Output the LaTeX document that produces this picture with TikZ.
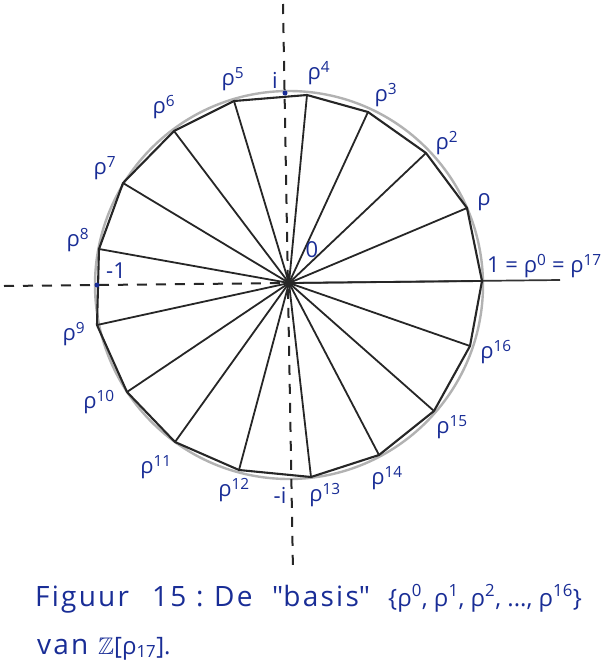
\documentclass[tikz,border=0pt]{standalone}
\usepackage{amssymb}
\usepackage{fontspec}
\setmainfont{Open Sans}
\newfontfamily\plainq{Open Sans}
\definecolor{ink}{RGB}{25,45,150}
\newcommand{\rp}[1]{ρ\textsuperscript{#1}}
\begin{document}
\begin{tikzpicture}[x=1pt,y=-1pt,
  lab/.style={text=ink, font=\fontsize{22}{26}\selectfont, inner sep=0pt},
  captxt/.style={text=ink, font=\fontsize{28}{32}\selectfont\addfontfeature{LetterSpace=8}, inner sep=0pt, anchor=base west},
  capset/.style={text=ink, font=\fontsize{24}{30}\selectfont, inner sep=0pt, anchor=base west},
  edge/.style={draw=black!85, line width=2.1pt, line join=round},
  spoke/.style={draw=black!85, line width=1.8pt},
  axisdash/.style={draw=black!85, line width=2pt, dash pattern=on 10pt off 9pt},
  axisline/.style={draw=black!80, line width=1.7pt},
  rim/.style={draw=black!30, line width=2.4pt},
  dot/.style={circle, fill=ink, inner sep=0pt, minimum size=5pt}]
\useasboundingbox (0,0) rectangle (606,667);
\fill[white] (0,0) rectangle (606,667);
% centre and vertices
\coordinate (O) at (289,283);
\coordinate (v0) at (482,281);
\coordinate (v1) at (467,208);
\coordinate (v2) at (426,153);
\coordinate (v3) at (368,112);
\coordinate (v4) at (307,95);
\coordinate (v5) at (234,101);
\coordinate (v6) at (174,131);
\coordinate (v7) at (123,183);
\coordinate (v8) at (99,249);
\coordinate (v9) at (97,325);
\coordinate (v10) at (127,392);
\coordinate (v11) at (175,442);
\coordinate (v12) at (239,470);
\coordinate (v13) at (311,477);
\coordinate (v14) at (379,455);
\coordinate (v15) at (434,411);
\coordinate (v16) at (470,346);
% axes end points
\coordinate (ytop) at (283,4);
\coordinate (ybot) at (293,572);
\coordinate (xleft) at (4,286);
\coordinate (xright) at (560,280);
% rim circle
\draw[rim] (289,285) circle[radius=194];
% axes
\draw[axisdash] (ytop) -- (ybot);
\draw[axisdash] (xleft) -- (O);
\draw[axisline] (O) -- (xright);
% spokes
\foreach \k in {0,...,16} { \draw[spoke] (O) -- (v\k); }
% polygon
\draw[edge] (v0) -- (v1) -- (v2) -- (v3) -- (v4) -- (v5) -- (v6) -- (v7) -- (v8) -- (v9) -- (v10) -- (v11) -- (v12) -- (v13) -- (v14) -- (v15) -- (v16) -- cycle;
% axis dots
\node[dot] (mone) at (97,285) {};
\node[dot] (ipt) at (285,93) {};
% labels
\node[lab, anchor=west] (l0) at (487,266) {1 = \rp{0} = \rp{17}};
\node[lab] (l1) at (484,202) {ρ};
\node[lab] (l2) at (447,143) {\rp{2}};
\node[lab] (l3) at (386,95) {\rp{3}};
\node[lab] (l4) at (319,73) {\rp{4}};
\node[lab] (li) at (275,80) {i};
\node[lab] (l5) at (233,79) {\rp{5}};
\node[lab] (l6) at (164,107) {\rp{6}};
\node[lab] (l7) at (105,168) {\rp{7}};
\node[lab] (l8) at (78,240) {\rp{8}};
\node[lab] (lm1) at (116,271) {-1};
\node[lab] (l9) at (74,334) {\rp{9}};
\node[lab] (l10) at (99,402) {\rp{10}};
\node[lab] (l11) at (156,467) {\rp{11}};
\node[lab] (l12) at (234,490) {\rp{12}};
\node[lab] (lmi) at (280,495) {-i};
\node[lab] (l13) at (325,495) {\rp{13}};
\node[lab] (l14) at (387,478) {\rp{14}};
\node[lab] (l15) at (452,427) {\rp{15}};
\node[lab] (l16) at (496,352) {\rp{16}};
\node[lab] (lO) at (312,250) {0};
% caption
\node[captxt] (c1) at (35,606) {Figuur};
\node[captxt] (c2) at (152,606) {15};
\node[captxt] (c3) at (196,606) {:};
\node[captxt] (c4) at (214,606) {De};
\node[captxt] (c5) at (272,606) {{\plainq"}basis{\plainq"}};
\node[capset] (c6) at (388,606) {\{\rp{0}, \rp{1}, \rp{2}, ..., \rp{16}\}};
\node[captxt] (c7) at (37,654) {van};
\node[capset] (c8) at (98,654) {$\mathbb{Z}$[ρ\textsubscript{17}].};
\end{tikzpicture}
\end{document}
